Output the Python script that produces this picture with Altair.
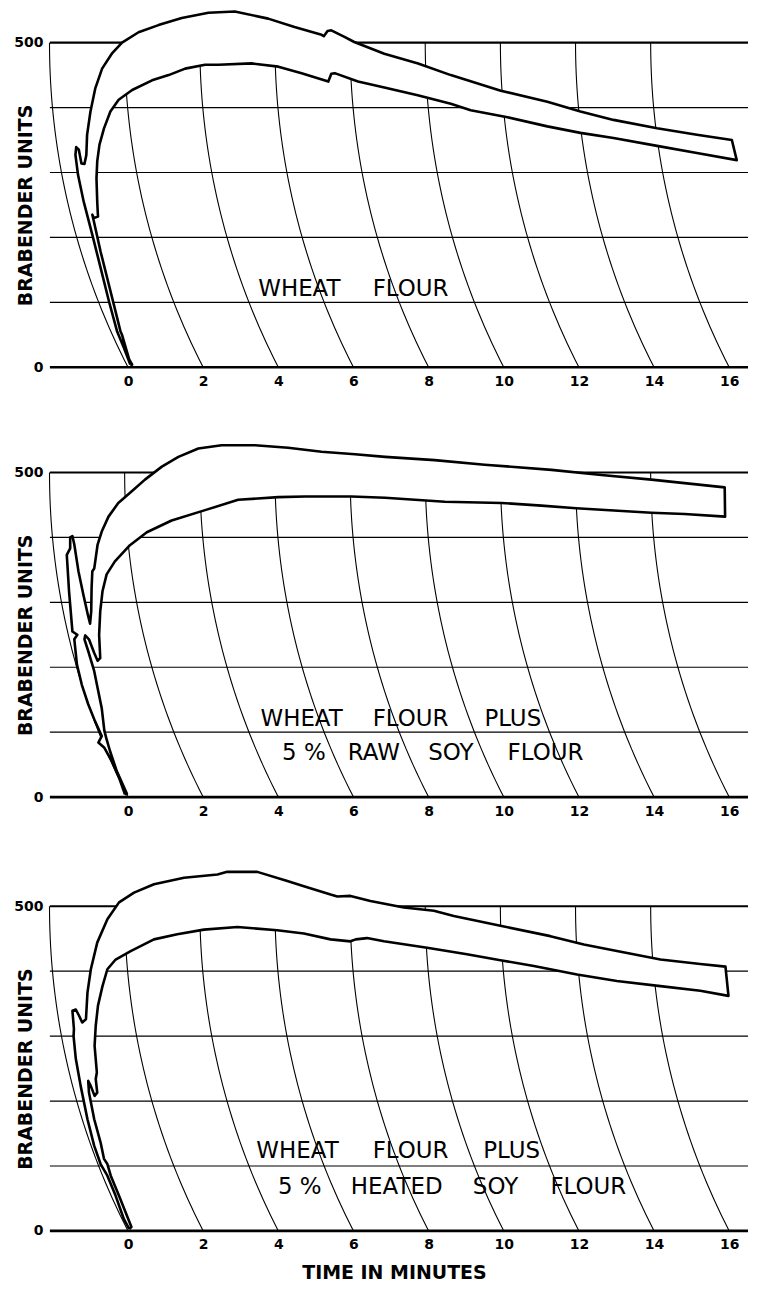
import altair as alt
import pandas as pd
import numpy as np

# ---------------- data ----------------
# Outline of each farinograph band: (time in minutes, Brabender units), closed path
p1_t = [0.06,-0.11,-0.29,-0.51,-0.73,-0.95,-1.18,-1.33,-1.40,-1.38,-1.31,-1.24,-1.16,-1.11,-1.09,-1.00,-0.87,-0.69,-0.42,-0.16,0.28,0.81,1.43,2.14,2.84,3.73,4.43,5.15,5.21,5.31,5.41,5.76,6.02,6.82,7.72,8.59,9.92,11.16,12.04,12.92,14.08,15.14,16.07,16.20,
        15.14,14.08,12.92,12.04,11.16,10.10,9.12,8.59,7.71,6.82,6.12,5.50,5.41,5.33,4.62,4.00,3.29,2.41,2.05,1.52,1.08,0.64,0.11,-0.25,-0.47,-0.64,-0.76,-0.82,-0.84,-0.82,-0.80,-0.91,-0.95,-0.91,-0.73,-0.51,-0.29,-0.20,-0.16,0.03,0.11,0.06]
p1_bu = [4,30,55,102,153,204,255,296,327,339,335,314,313,327,358,394,430,460,484,500,516,527,538,546,548,537,524,512,510,518,519,509,501,483,468,450,426,409,394,381,368,358,350,319,
         330,341,353,361,371,385,396,406,419,431,440,453,452,440,453,463,468,466,466,460,450,442,427,412,394,368,343,317,291,255,232,230,235,225,178,127,76,55,50,12,4,4]

p2_t = [-0.08,-0.24,-0.43,-0.63,-0.79,-0.70,-0.88,-1.06,-1.23,-1.36,-1.43,-1.35,-1.48,-1.57,-1.63,-1.54,-1.54,-1.48,-1.43,-1.32,-1.19,-1.07,-1.01,
        -0.98,-0.97,-0.95,-0.90,-0.88,-0.81,-0.70,-0.52,-0.26,0.10,0.45,0.90,1.34,1.87,2.49,3.38,4.26,5.15,6.04,6.84,8.16,9.49,11.27,12.60,13.93,15.88,15.89,
        14.81,13.93,13.04,11.93,11.00,9.94,8.43,6.84,5.95,4.71,4.00,2.93,2.05,1.16,0.50,0.05,-0.35,-0.57,-0.68,-0.74,-0.77,-0.74,-0.81,-0.90,-1.04,-1.14,-1.16,
        -1.06,-0.90,-0.81,-0.70,-0.63,-0.57,-0.48,-0.30,-0.03,-0.08]
p2_bu = [4,30,55,76,84,94,117,143,173,204,243,250,255,317,373,383,400,402,389,348,312,281,267,
         286,322,348,352,360,389,409,432,453,471,489,509,524,537,542,542,538,532,528,524,519,512,504,496,489,477,432,
         436,438,441,445,449,453,455,461,463,463,462,458,442,426,408,388,363,343,317,286,250,214,210,222,243,249,243,
         225,194,168,137,102,89,71,40,5,4]

p3_t = [0.03,-0.11,-0.33,-0.55,-0.73,-0.90,-1.08,-1.26,-1.39,-1.45,-1.44,-1.48,-1.39,-1.30,-1.22,-1.12,-1.08,-0.99,-0.82,-0.55,-0.24,0.16,0.69,1.49,2.38,2.64,3.44,4.24,4.68,5.39,5.57,5.92,6.45,7.34,8.14,8.67,9.91,11.24,12.13,13.01,14.17,15.23,15.90,15.98,
        15.23,14.17,13.01,11.95,10.80,9.91,9.02,7.96,6.81,6.36,6.06,5.92,5.39,4.68,3.97,2.91,2.02,1.31,0.69,0.07,-0.33,-0.55,-0.68,-0.80,-0.86,-0.89,-0.83,-0.86,-0.82,-0.89,-0.99,-1.06,
        -1.04,-0.90,-0.73,-0.64,-0.55,-0.46,-0.24,0.09,0.03]
p3_bu = [3,18,54,85,103,131,172,223,265,300,311,339,341,331,321,326,367,403,444,480,506,521,534,544,549,553,553,539,531,518,515,516,508,498,493,485,470,454,441,431,418,411,407,362,
         370,377,385,395,408,417,426,436,446,451,449,446,449,458,463,468,464,457,449,431,418,403,377,347,316,285,244,234,213,208,223,231,
         213,172,136,111,103,85,54,6,3]

# Lettering inside each panel: word, time position, BU position
p1_words = ["WHEAT", "FLOUR"]
p1_wt = [4.56, 7.52]
p1_wb = [121, 121]

p2_words = ["WHEAT", "FLOUR", "PLUS", "5 %", "RAW", "SOY", "FLOUR"]
p2_wt = [4.62, 7.52, 10.24, 4.68, 6.54, 8.59, 11.11]
p2_wb = [121, 121, 121, 68, 68, 68, 68]

p3_words = ["WHEAT", "FLOUR", "PLUS", "5 %", "HEATED", "SOY", "FLOUR"]
p3_wt = [4.51, 7.52, 10.21, 4.57, 7.15, 9.78, 12.25]
p3_wb = [123, 123, 123, 67, 67, 67, 67]

x_ticks = [0, 2, 4, 6, 8, 10, 12, 14, 16]
y_ticks = [0, 500]
h_lines = [0, 100, 200, 300, 400, 500]
h_widths = [2.6, 1.2, 1.2, 1.2, 1.2, 2.2]

# ---------------- chart paper geometry ----------------
X_MIN, X_MAX = -2.08, 16.5
WIDTH = 700
PX_PER_MIN = WIDTH / (X_MAX - X_MIN)
PX_PER_BU = 0.651
R_PX = 712.0


def arc_frame():
    rows = []
    bus = np.linspace(0, 500, 41)
    def shift(bu):
        dy = (500 - bu) * PX_PER_BU
        return R_PX - np.sqrt(R_PX ** 2 - dy ** 2)
    for k in x_ticks:
        for i, b in enumerate(bus):
            rows.append({"k": k, "i": i, "bu": b,
                         "t": k - (shift(0) - shift(b)) / PX_PER_MIN})
    return pd.DataFrame(rows)


arcs_df = arc_frame()
hline_df = pd.DataFrame({"bu": h_lines, "t": [X_MIN] * 6, "t2": [X_MAX] * 6, "w": h_widths})


def panel(ts, bus, words, wt, wb, dmax, title_x):
    height = dmax * PX_PER_BU
    xs = alt.Scale(domain=[X_MIN, X_MAX], nice=False, zero=False)
    ys = alt.Scale(domain=[0, dmax], nice=False, zero=False)
    xaxis = alt.Axis(values=x_ticks, grid=False, ticks=False, domain=False,
                     labelFont="DejaVu Sans", labelFontWeight="bold", labelFontSize=14,
                     labelPadding=7, labelColor="black",
                     title="TIME IN MINUTES" if title_x else None,
                     titleFont="DejaVu Sans", titleFontWeight="bold", titleFontSize=19,
                     titleColor="black", titleX=345, titleY=42, titleAlign="center",
                     titleBaseline="middle")
    yaxis = alt.Axis(values=y_ticks, grid=False, ticks=False, domain=False,
                     labelFont="DejaVu Sans", labelFontWeight="bold", labelFontSize=14,
                     labelPadding=7, labelColor="black",
                     title="BRABENDER UNITS", titleFont="DejaVu Sans", titleFontWeight="bold",
                     titleFontSize=19, titleColor="black", titleAngle=270,
                     titleX=-24, titleY=(dmax - 250) * PX_PER_BU,
                     titleAlign="center", titleBaseline="middle")
    X = alt.X("t:Q", scale=xs, axis=xaxis)
    Y = alt.Y("bu:Q", scale=ys, axis=yaxis)

    band_df = pd.DataFrame({"t": ts, "bu": bus, "i": range(len(ts))})
    text_df = pd.DataFrame({"t": wt, "bu": wb, "w": words})

    hl = alt.Chart(hline_df).mark_rule(color="black").encode(
        x=X, x2="t2:Q", y=Y, strokeWidth=alt.StrokeWidth("w:Q", scale=None))
    ar = alt.Chart(arcs_df).mark_line(color="black", strokeWidth=1.1).encode(
        x=X, y=Y, detail="k:N", order="i:Q")
    band = alt.Chart(band_df).mark_line(fill="white", stroke="black", strokeWidth=2.6,
                                        strokeJoin="round").encode(x=X, y=Y, order="i:Q")
    txt = alt.Chart(text_df).mark_text(font="DejaVu Sans", fontSize=23, color="black",
                                       align="center", baseline="middle").encode(x=X, y=Y, text="w:N")
    return alt.layer(hl, ar, band, txt).properties(width=WIDTH, height=height)


c1 = panel(p1_t, p1_bu, p1_words, p1_wt, p1_wb, 550.7, False)
c2 = panel(p2_t, p2_bu, p2_words, p2_wt, p2_wb, 550.7, False)
c3 = panel(p3_t, p3_bu, p3_words, p3_wt, p3_wb, 556.8, True)

chart = alt.vconcat(c1, c2, c3, spacing=51).properties(
    padding={"left": 5, "top": 0, "right": 0, "bottom": 0},
    background="white",
).configure_view(stroke=None)

chart.save("out.html", embed_options={"renderer": "svg", "actions": False})
